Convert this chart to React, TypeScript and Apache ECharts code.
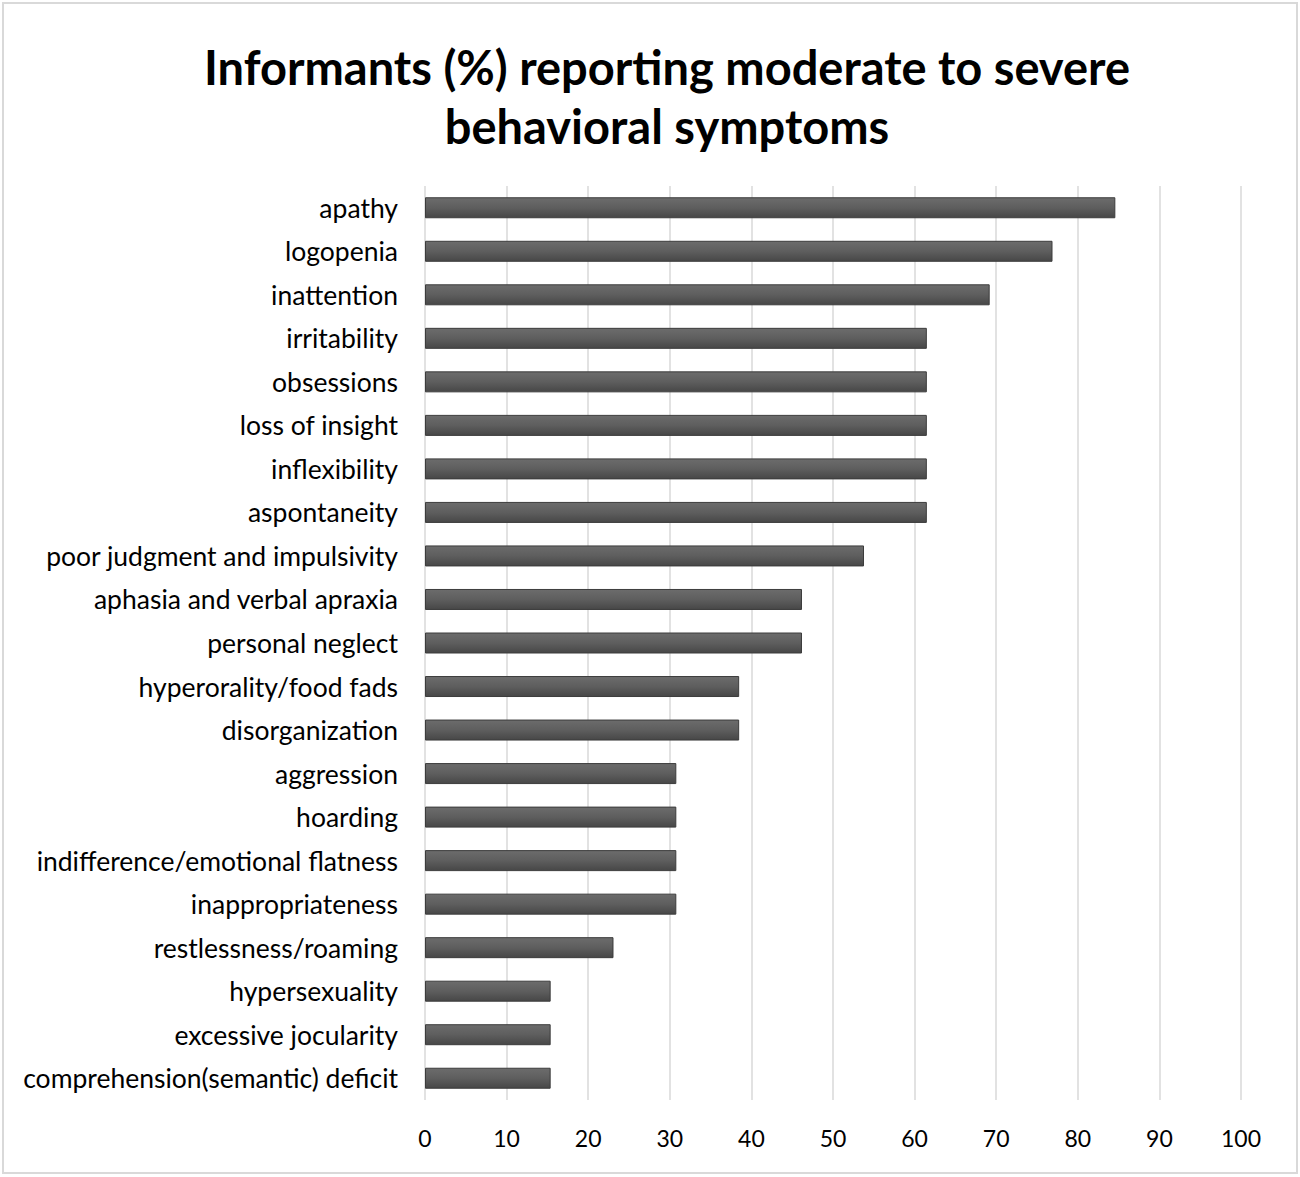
import React, { useEffect, useRef } from "react";
import * as echarts from "echarts";

const categories = [
  "apathy",
  "logopenia",
  "inattention",
  "irritability",
  "obsessions",
  "loss of insight",
  "inflexibility",
  "aspontaneity",
  "poor judgment and impulsivity",
  "aphasia and verbal apraxia",
  "personal neglect",
  "hyperorality/food fads",
  "disorganization",
  "aggression",
  "hoarding",
  "indifference/emotional flatness",
  "inappropriateness",
  "restlessness/roaming",
  "hypersexuality",
  "excessive jocularity",
  "comprehension(semantic) deficit",
];

const values = [
  84.6, 76.9, 69.2, 61.5, 61.5, 61.5, 61.5, 61.5, 53.8, 46.2, 46.2, 38.5, 38.5,
  30.8, 30.8, 30.8, 30.8, 23.1, 15.4, 15.4, 15.4,
];

const titleLines = [
  "Informants (%) reporting moderate to severe",
  "behavioral symptoms",
];

const FONT = "Lato, 'Open Sans', sans-serif";

export default function App() {
  const ref = useRef<HTMLDivElement>(null);

  useEffect(() => {
    if (!ref.current) return;
    const chart = echarts.init(ref.current, null, { renderer: "svg" });
    chart.setOption({
      animation: false,
      backgroundColor: "#ffffff",
      title: {
        text: titleLines.join("\n"),
        left: 662,
        top: 32,
        textAlign: "center",
        textStyle: {
          fontFamily: FONT,
          fontWeight: "bold",
          fontSize: 47,
          lineHeight: 59,
          color: "#000000",
        },
      },
      graphic: [
        {
          type: "rect",
          shape: { x: 3, y: 3, width: 1294, height: 1170 },
          style: { fill: "none", stroke: "#d9d9d9", lineWidth: 2 },
          silent: true,
        },
      ],
      grid: {
        left: 425,
        right: 59,
        top: 186,
        bottom: 77,
        containLabel: false,
      },
      xAxis: {
        type: "value",
        min: 0,
        max: 100,
        interval: 10,
        axisLine: { show: false },
        axisTick: { show: false },
        splitLine: { show: true, lineStyle: { color: "#d9d9d9", width: 1.5 } },
        axisLabel: {
          fontFamily: FONT,
          fontSize: 23,
          color: "#000000",
          margin: 26,
        },
      },
      yAxis: {
        type: "category",
        data: categories,
        inverse: true,
        axisLine: { show: false },
        axisTick: { show: false },
        axisLabel: {
          fontFamily: FONT,
          fontSize: 26.5,
          color: "#000000",
          margin: 27,
        },
      },
      series: [
        {
          type: "bar",
          data: values,
          barWidth: 21,
          itemStyle: {
            color: new echarts.graphic.LinearGradient(0, 0, 0, 1, [
              { offset: 0, color: "#6c6c6c" },
              { offset: 0.5, color: "#5e5e5e" },
              { offset: 1, color: "#474747" },
            ]),
            borderColor: "#3c3c3c",
            borderWidth: 1,
          },
        },
      ],
    });
    return () => chart.dispose();
  }, []);

  return (
    <div
      ref={ref}
      style={{
        position: "absolute",
        left: 0,
        top: 0,
        width: 1300,
        height: 1177,
      }}
    />
  );
}
